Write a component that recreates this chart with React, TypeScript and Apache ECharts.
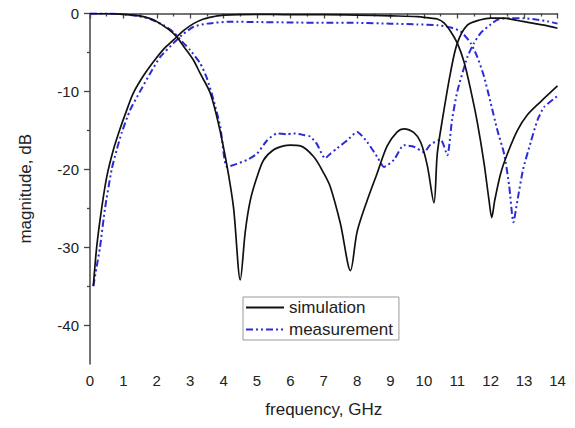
import React, { useEffect, useRef } from "react";
import * as echarts from "echarts";

// simulated reflection (black, starts at 0 dB)
const simS11Freq = [0, 0.5, 1.0, 1.3, 1.6, 1.9, 2.1, 2.4, 2.6, 2.8, 3.1, 3.3, 3.6, 3.85, 4.1, 4.3, 4.5, 4.65, 4.8, 5.0, 5.2, 5.5, 5.8, 6.0, 6.3, 6.7, 7.0, 7.2, 7.5, 7.8, 8.0, 8.3, 8.6, 8.9, 9.2, 9.4, 9.7, 9.9, 10.1, 10.3, 10.4, 10.55, 10.8, 11.0, 11.3, 11.7, 12.0, 12.4, 12.8, 13.2, 13.6, 14.0];
const simS11Db = [0, 0, -0.1, -0.2, -0.4, -0.8, -1.3, -2.2, -3.0, -4.2, -6.0, -7.7, -10.2, -14.2, -19.5, -25, -34.2, -28, -24, -21, -18.8, -17.5, -17, -16.9, -17.0, -18.4, -20.5, -22.3, -27, -33, -28, -24, -20.5, -17, -15.2, -14.8, -15.3, -16.5, -19.5, -24.3, -18, -13.7, -7.5, -3.8, -1.5, -0.8, -0.6, -0.6, -0.9, -1.2, -1.5, -1.9];

// simulated transmission (black, rises from -35 dB)
const simS21Freq = [0.1, 0.2, 0.35, 0.5, 0.7, 0.9, 1.1, 1.3, 1.6, 1.9, 2.2, 2.5, 2.8, 3.1, 3.4, 3.7, 4.0, 5, 6, 7, 8, 9, 9.8, 10.2, 10.4, 10.6, 10.8, 11.0, 11.2, 11.4, 11.6, 11.8, 11.95, 12.03, 12.12, 12.3, 12.5, 12.8, 13.1, 13.5, 14.0];
const simS21Db = [-35, -30, -25, -21, -17.5, -14.8, -12.4, -10.2, -8.0, -6.2, -4.6, -3.4, -2.2, -1.3, -0.7, -0.4, -0.2, -0.1, -0.15, -0.15, -0.2, -0.3, -0.4, -0.6, -0.7, -1.2, -2.3, -3.8, -6.2, -9.8, -14, -19.2, -24, -26.2, -24, -20.5, -18, -15, -13, -11.3, -9.3];

// measured reflection (blue)
const measS11Freq = [0, 0.5, 1.0, 1.4, 1.8, 2.2, 2.5, 2.8, 3.0, 3.3, 3.5, 3.7, 3.9, 4.1, 4.4, 4.7, 5.0, 5.3, 5.6, 5.9, 6.1, 6.4, 6.6, 6.8, 7.04, 7.2, 7.4, 7.7, 8.0, 8.3, 8.6, 8.8, 9.1, 9.4, 9.7, 10.0, 10.2, 10.5, 10.7, 10.84, 11.0, 11.3, 11.5, 11.7, 12.0, 12.2, 12.6, 13.0, 13.4, 13.7, 14];
const measS11Db = [0, 0, -0.1, -0.3, -0.7, -1.5, -2.4, -3.8, -4.7, -6.4, -8.3, -11.1, -14.5, -19.7, -19.3, -18.8, -18, -16.3, -15.4, -15.5, -15.4, -15.6, -15.8, -16.8, -18.6, -18, -17.3, -16.3, -15.2, -16.5, -18.4, -19.7, -18.8, -16.9, -17.1, -17.8, -16.8, -16.2, -18.2, -13.7, -10, -5.6, -3.8, -2.5, -1.4, -0.8, -0.6, -0.6, -0.8, -1.0, -1.3];

// measured transmission (blue)
const measS21Freq = [0.1, 0.2, 0.3, 0.45, 0.65, 0.8, 0.95, 1.2, 1.5, 1.8, 2.1, 2.5, 2.8, 3.1, 3.5, 4.2, 5, 6, 7, 8, 9, 9.8, 10.4, 10.8, 11.1, 11.4, 11.6, 11.8, 12.0, 12.2, 12.4, 12.55, 12.68, 12.8, 12.97, 13.2, 13.4, 13.6, 14];
const measS21Db = [-35, -32.5, -30, -25, -20, -17.5, -15.3, -12.4, -10, -7.7, -5.6, -3.8, -2.6, -1.7, -1.3, -1.05, -1.1, -1.15, -1.2, -1.2, -1.3, -1.4, -1.5, -1.8, -2.3, -3.8, -5.6, -8.1, -11.5, -15, -18, -22, -26.8, -24, -20, -16.5, -13.7, -12, -10.6];

const yMajorTicks = [0, -10, -20, -30, -40];
const yMinorTicks = [-5, -15, -25, -35];

const FONT = "'Liberation Sans', Arial, sans-serif";
const BLACK = "#111111";
const BLUE = "#2b2bd8";
const AXIS = "#444444";

const zip = (xs: number[], ys: number[]) => xs.map((x, i) => [x, ys[i]]);

export default function App() {
  const ref = useRef<HTMLDivElement>(null);
  useEffect(() => {
    if (!ref.current) return;
    const chart = echarts.init(ref.current, null, { renderer: "svg" });
    const simLine = { color: BLACK, width: 1.7, type: "solid" as const };
    const measLine = { color: BLUE, width: 2, type: [7, 3, 2, 3, 2, 3] };
    chart.setOption({
      animation: false,
      backgroundColor: "#ffffff",
      grid: { left: 90, right: 17.5, top: 13.5, bottom: 64 },
      legend: {
        show: true,
        data: ["simulation", "measurement"],
        orient: "vertical",
        left: 243,
        top: 297,
        width: 153,
        borderColor: "#999999",
        borderWidth: 1,
        padding: [2, 6, 2, 2],
        itemGap: 5,
        itemWidth: 38,
        itemHeight: 14,
        itemStyle: { color: "rgba(0,0,0,0)", borderWidth: 0, opacity: 0 },
        textStyle: { fontFamily: FONT, fontSize: 17, color: "#222" },
      },
      xAxis: {
        type: "value",
        min: 0,
        max: 14,
        interval: 1,
        name: "frequency, GHz",
        nameLocation: "middle",
        nameGap: 37,
        nameTextStyle: { fontFamily: FONT, fontSize: 17, color: "#222" },
        axisLine: { show: true, lineStyle: { color: AXIS, width: 1.5 } },
        axisTick: { show: true, inside: false, length: 5, lineStyle: { color: AXIS, width: 1.3 } },
        minorTick: { show: true, splitNumber: 2, length: 3, lineStyle: { color: AXIS, width: 1.3 } },
        splitLine: { show: false },
        axisLabel: { fontFamily: FONT, fontSize: 15, color: "#222", margin: 9 },
      },
      yAxis: [
        {
          type: "value",
          min: -45,
          max: 0,
          name: "magnitude, dB",
          nameLocation: "middle",
          nameGap: 56,
          nameTextStyle: { fontFamily: FONT, fontSize: 17, color: "#222" },
          axisLine: { show: true, lineStyle: { color: AXIS, width: 1.5 } },
          axisTick: { show: true, length: 6, customValues: yMajorTicks, lineStyle: { color: AXIS, width: 1.3 } },
          splitLine: { show: false },
          axisLabel: { fontFamily: FONT, fontSize: 15, color: "#222", margin: 11, customValues: yMajorTicks },
        },
        {
          type: "value",
          position: "left",
          min: -45,
          max: 0,
          axisLine: { show: false },
          axisTick: { show: true, length: 3, customValues: yMinorTicks, lineStyle: { color: AXIS, width: 1.3 } },
          axisLabel: { show: false },
          splitLine: { show: false },
        },
      ],
      series: [
        { name: "simulation", type: "line", data: zip(simS11Freq, simS11Db), showSymbol: false, symbol: "none", smooth: 0.3, lineStyle: simLine, itemStyle: { color: BLACK }, z: 3 },
        { name: "simulation", type: "line", data: zip(simS21Freq, simS21Db), showSymbol: false, symbol: "none", smooth: 0.3, lineStyle: simLine, itemStyle: { color: BLACK }, z: 3 },
        { name: "measurement", type: "line", data: zip(measS11Freq, measS11Db), showSymbol: false, symbol: "none", smooth: 0.2, lineStyle: measLine, itemStyle: { color: BLUE }, z: 2 },
        { name: "measurement", type: "line", data: zip(measS21Freq, measS21Db), showSymbol: false, symbol: "none", smooth: 0.2, lineStyle: measLine, itemStyle: { color: BLUE }, z: 2 },
      ],
    });
    return () => chart.dispose();
  }, []);
  return (
    <div
      ref={ref}
      style={{ position: "absolute", left: 0, top: 0, width: 575, height: 428, background: "#fff" }}
    />
  );
}
